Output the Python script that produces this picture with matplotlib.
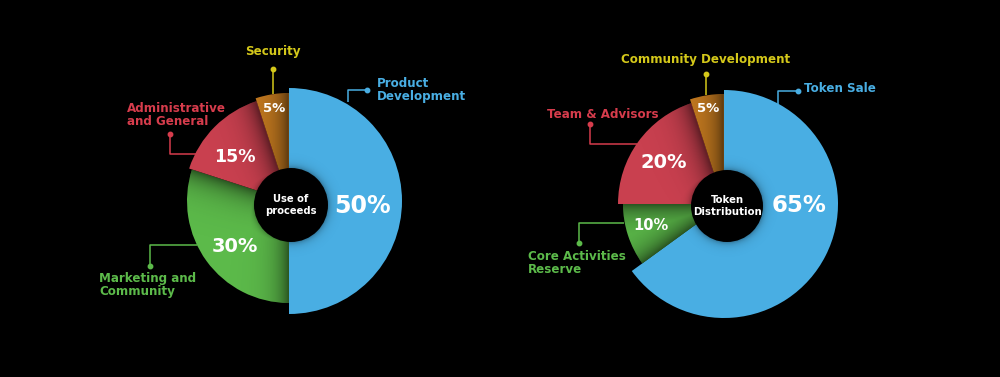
import numpy as np
import matplotlib
matplotlib.use("Agg")
import matplotlib.pyplot as plt
from matplotlib.patches import Wedge, Circle

# ---------------- data ----------------
left_title = "Use of\nproceeds"
left_labels = ["Product\nDevelopment", "Marketing and\nCommunity", "Administrative\nand General", "Security"]
left_values = [50, 30, 15, 5]

right_title = "Token\nDistribution"
right_labels = ["Token Sale", "Core Activities\nReserve", "Team & Advisors", "Community Development"]
right_values = [65, 10, 20, 5]

# ---------------- style ----------------
slice_colors = ["#49aee3", "#5cba4a", "#c9404f", "#c67b20"]
label_colors = ["#49aee3", "#5cba4a", "#d63c4c", "#d4c81a"]

W, H = 1000, 377
fig = plt.figure(figsize=(10, 3.77), dpi=100, facecolor="black")
ax = fig.add_axes([0, 0, 1, 1])
ax.set_facecolor("black")
ax.set_xlim(0, W)
ax.set_ylim(0, H)
ax.axis("off")
plt.rcParams["font.family"] = ["DejaVu Sans"]


def Y(p):
    return H - p


def draw_pie(cx, cy, values, radii, hole_c, hole_r, pct_pos, pct_sizes, title, title_size):
    cyd = Y(cy)
    total = float(sum(values))
    start = 90.0
    spans = []
    for v in values:
        th2 = start
        th1 = start - v / total * 360.0
        spans.append((th1, th2))
        start = th1
    n = len(values)
    R = max(radii) + 6
    res = 4
    N = int(2 * R * res)
    xs = np.linspace(cx - R, cx + R, N)
    ys = np.linspace(cyd - R, cyd + R, N)
    XX, YY = np.meshgrid(xs, ys)
    DX, DY = XX - cx, YY - cyd
    rho = np.hypot(DX, DY)
    phi = np.degrees(np.arctan2(DY, DX))
    hx, hy = hole_c
    rho_h = np.hypot(XX - hx, YY - Y(hy))
    for i, (v, r) in enumerate(zip(values, radii)):
        th1, th2 = spans[i]
        w = Wedge((cx, cyd), r, th1, th2, facecolor=slice_colors[i], edgecolor="none", zorder=2)
        ax.add_patch(w)
        # shading overlay
        ph = (phi - th1) % 360.0 + th1
        alpha = np.zeros_like(rho)
        prev_r = radii[i - 1] if i > 0 else radii[-1]
        next_r = radii[(i + 1) % n]
        if i != 0:
            if prev_r > r:  # neighbour on th2 side
                d = rho * np.radians(np.clip(th2 - ph, 0, None))
                alpha = np.maximum(alpha, 0.55 * np.exp(-d / 13.0))
            if next_r > r:  # neighbour on th1 side
                d = rho * np.radians(np.clip(ph - th1, 0, None))
                alpha = np.maximum(alpha, 0.55 * np.exp(-d / 13.0))
        # hole shadow
        alpha = np.maximum(alpha, 0.3 * np.exp(-np.clip(rho_h - hole_r, 0, None) / 3.5))
        rgba = np.zeros(rho.shape + (4,))
        rgba[..., 3] = alpha
        im = ax.imshow(rgba, extent=[cx - R, cx + R, cyd - R, cyd + R], origin="lower",
                       interpolation="bilinear", aspect="auto", zorder=3)
        im.set_clip_path(w)
    ax.add_patch(Circle((hx, Y(hy)), hole_r, facecolor="black", edgecolor="none", zorder=4))
    ax.text(hx, Y(hy), title, color="white", fontsize=title_size, fontweight="bold",
            ha="center", va="center", linespacing=1.35, zorder=5)
    for i, v in enumerate(values):
        px, py = pct_pos[i]
        ax.text(px, Y(py), f"{v}%", color="white", fontsize=pct_sizes[i], fontweight="bold",
                ha="center", va="center", zorder=5)


def leader(points, color):
    xs = [p[0] for p in points]
    ys = [Y(p[1]) for p in points]
    ax.plot(xs, ys, color=color, lw=1.1, zorder=1, solid_capstyle="butt")
    ax.plot(xs[0], ys[0], "o", color=color, markersize=3.2, zorder=1)


def label(x, y, text, color, ha="left"):
    ax.text(x, Y(y), text, color=color, fontsize=8.6, fontweight="bold", ha=ha, va="center",
            linespacing=1.05, zorder=5)


# ---------------- left pie ----------------
draw_pie(289, 201, left_values, [113, 102, 105, 108], (291, 205), 37,
         [(363, 206), (235, 247), (235, 157), (274, 108)], [17, 14, 12.5, 9.5],
         left_title, 7.2)
leader([(367, 90), (348, 90), (348, 102)], label_colors[0])
label(377, 90, left_labels[0], label_colors[0])
leader([(150, 266), (150, 245), (197, 245)], label_colors[1])
label(99, 285, left_labels[1], label_colors[1])
leader([(170, 134), (170, 154), (197, 154)], label_colors[2])
label(127, 115, left_labels[2], label_colors[2])
leader([(273, 69), (273, 94)], label_colors[3])
label(273, 52, left_labels[3], label_colors[3], ha="center")

# ---------------- right pie ----------------
draw_pie(724, 204, right_values, [114, 101, 106, 110], (727, 206), 36,
         [(799, 206), (651, 226), (664, 163), (708, 108)], [16.5, 10.5, 14, 9.5],
         right_title, 7.3)
leader([(798, 91), (778, 91), (778, 104)], label_colors[0])
label(804, 88, right_labels[0], label_colors[0])
leader([(579, 243), (579, 223), (624, 223)], label_colors[1])
label(528, 263, right_labels[1], label_colors[1])
leader([(590, 124), (590, 144), (637, 144)], label_colors[2])
label(547, 115, right_labels[2], label_colors[2])
leader([(706, 74), (706, 95)], label_colors[3])
label(706, 59, right_labels[3], label_colors[3], ha="center")

fig.savefig("out.png", dpi=100, facecolor="black")
